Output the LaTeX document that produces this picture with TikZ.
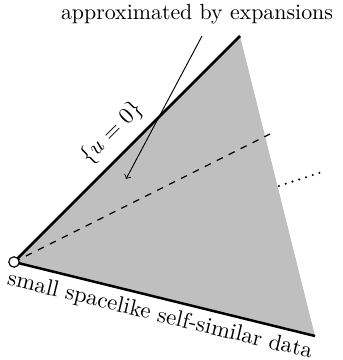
\documentclass[tikz,border=0pt]{standalone}
\usetikzlibrary{calc}
\begin{document}
\begin{tikzpicture}[x=0.48pt,y=-0.48pt,
  edge/.style={line width=1.2pt},
  pointer/.style={line width=0.45pt,->},
  dashline/.style={line width=0.55pt,dash pattern=on 3.2pt off 3.2pt},
  dotline/.style={line width=1.1pt,line cap=round,dash pattern=on 0pt off 3.4pt},
  lbl/.style={inner sep=0pt,font=\fontsize{10.5}{12.5}\selectfont}]
\useasboundingbox (0,0) rectangle (343,360);
\coordinate (O) at (14,262);
\coordinate (T) at (240,36);
\coordinate (B) at (315,336);
\coordinate (D) at (270,134);
\coordinate (P1) at (279,186);
\coordinate (P2) at (322,172);
\coordinate (A0) at (202,36);
\coordinate (A1) at (126,179);
\fill[black!25] (O)--(T)--(B)--cycle;
\draw[edge] (T)--(O)--(B);
\draw[dashline] (O)--(D);
\draw[dotline] (P1)--(P2);
\draw[pointer] (A0)--(A1);
\node[lbl] (top) at (197,14) {approximated by expansions};
\node[lbl,rotate=45] (u0) at (112,133) {$\{u=0\}$};
\node[lbl,rotate=-13.6,font=\fontsize{10.9}{13}\selectfont] (data) at (160,316) {small spacelike self-similar data};
\node[circle,draw,fill=white,line width=0.55pt,inner sep=0pt,minimum size=5pt] (vtx) at (O) {};
\end{tikzpicture}
\end{document}
